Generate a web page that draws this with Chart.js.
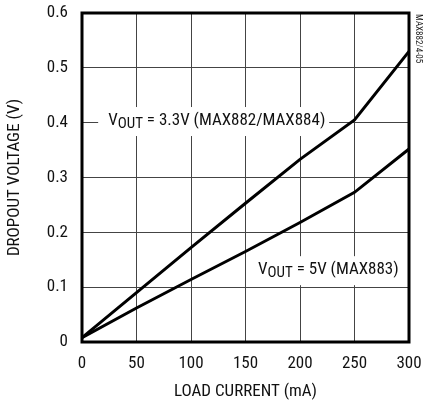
<!DOCTYPE html>
<html>
<head>
<meta charset="utf-8">
<script src="https://cdn.jsdelivr.net/npm/chart.js@4"></script>
<style>
  html, body { margin: 0; padding: 0; background: #fff; }
  canvas { display: block; }
</style>
</head>
<body>
<canvas id="dropout" width="424" height="400"></canvas>
<script>
// --- data ---
const loadCurrent = [0, 50, 100, 150, 200, 250, 300];           // mA
const vout33 = [0.008, 0.09, 0.172, 0.253, 0.333, 0.405, 0.53];  // V, MAX882/MAX884
const vout5 = [0.008, 0.062, 0.114, 0.165, 0.218, 0.273, 0.352]; // V, MAX883
const xTicks = [0, 50, 100, 150, 200, 250, 300];
const yTicks = [0, 0.1, 0.2, 0.3, 0.4, 0.5, 0.6];

const FONT = "'Roboto Condensed', 'DejaVu Sans Condensed', sans-serif";

function toPoints(xs, ys) {
  return xs.map((x, i) => ({ x: x, y: ys[i] }));
}

// curve labels: "V" + subscript "OUT" + rest, on a white box
function drawLabel(ctx, x, y, rest, boxW) {
  ctx.save();
  ctx.fillStyle = "#fff";
  ctx.fillRect(x - 10, y - 14, boxW, 29);
  ctx.fillStyle = "#111";
  ctx.textBaseline = "middle";
  ctx.textAlign = "left";
  ctx.font = "17px " + FONT;
  ctx.fillText("V", x, y);
  let w = ctx.measureText("V").width;
  ctx.font = "15px " + FONT;
  ctx.fillText("OUT", x + w, y + 3);
  w += ctx.measureText("OUT").width;
  ctx.font = "17px " + FONT;
  ctx.fillText(rest, x + w, y);
  ctx.restore();
}

const annotations = {
  id: "annotations",
  beforeDatasetsDraw(chart) {
    const { ctx, scales } = chart;
    const sx = scales.x, sy = scales.y;
    drawLabel(ctx, sx.getPixelForValue(24), sy.getPixelForValue(0.403), " = 3.3V (MAX882/MAX884)", 231);
    drawLabel(ctx, sx.getPixelForValue(161.5), sy.getPixelForValue(0.131), " = 5V (MAX883)", 150);
  },
  afterDatasetsDraw(chart) {
    const { ctx, chartArea } = chart;
    ctx.save();
    ctx.strokeStyle = "#000";
    ctx.lineWidth = 3;
    ctx.strokeRect(chartArea.left, chartArea.top, chartArea.right - chartArea.left, chartArea.bottom - chartArea.top);
    // figure code on the right edge
    ctx.translate(418, 14);
    ctx.rotate(Math.PI / 2);
    ctx.font = "9px " + FONT;
    ctx.fillStyle = "#222";
    ctx.textBaseline = "middle";
    ctx.textAlign = "left";
    ctx.fillText("MAX882/4-05", 0, 0);
    ctx.restore();
  }
};

new Chart(document.getElementById("dropout"), {
  type: "line",
  data: {
    datasets: [
      {
        label: "VOUT = 3.3V (MAX882/MAX884)",
        data: toPoints(loadCurrent, vout33),
        borderColor: "#000",
        borderWidth: 3,
        pointRadius: 0,
        tension: 0,
        fill: false,
      },
      {
        label: "VOUT = 5V (MAX883)",
        data: toPoints(loadCurrent, vout5),
        borderColor: "#000",
        borderWidth: 3,
        pointRadius: 0,
        tension: 0,
        fill: false,
      },
    ],
  },
  options: {
    responsive: false,
    animation: false,
    layout: { padding: { top: 13, right: 15, left: 0, bottom: 0 } },
    plugins: { legend: { display: false }, tooltip: { enabled: false } },
    scales: {
      x: {
        type: "linear",
        min: 0,
        max: 300,
        afterBuildTicks: (s) => { s.ticks = xTicks.map((v) => ({ value: v })); },
        afterFit: (s) => { s.height = 58; s.paddingLeft = 0; s.paddingRight = 0; },
        ticks: { color: "#111", font: { family: FONT, size: 17 }, padding: 12, maxRotation: 0 },
        grid: { color: "#444", lineWidth: 1, drawTicks: false },
        border: { display: false },
        title: {
          display: true,
          text: "LOAD CURRENT (mA)",
          color: "#111",
          font: { family: FONT, size: 17, lineHeight: 1 },
          padding: { top: 0, bottom: 0 },
        },
      },
      y: {
        min: 0,
        max: 0.6,
        afterBuildTicks: (s) => { s.ticks = yTicks.map((v) => ({ value: v })); },
        afterFit: (s) => { s.width = 82; s.paddingTop = 0; s.paddingBottom = 0; },
        ticks: {
          color: "#111",
          font: { family: FONT, size: 17 },
          padding: 14,
          callback: (v) => (v === 0 ? "0" : v.toFixed(1)),
        },
        grid: { color: "#444", lineWidth: 1, drawTicks: false },
        border: { display: false },
        title: {
          display: true,
          text: "DROPOUT VOLTAGE (V)",
          color: "#111",
          font: { family: FONT, size: 17 },
          padding: { top: 5, bottom: 0 },
        },
      },
    },
  },
  plugins: [annotations],
});
</script>
</body>
</html>
